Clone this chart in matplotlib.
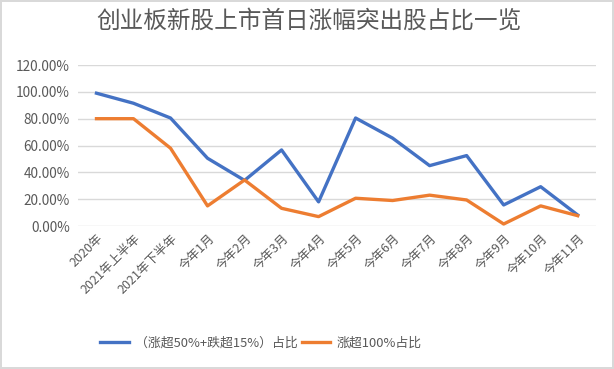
import matplotlib.pyplot as plt
from matplotlib.ticker import FuncFormatter

plt.rcParams['font.family'] = ['Noto Sans CJK SC', 'DejaVu Sans']

# 数据
categories = ['2020年', '2021年上半年', '2021年下半年', '今年1月', '今年2月', '今年3月', '今年4月',
              '今年5月', '今年6月', '今年7月', '今年8月', '今年9月', '今年10月', '今年11月']
ratio_mixed = [0.99, 0.915, 0.805, 0.505, 0.34, 0.567, 0.18, 0.805, 0.655, 0.45, 0.525, 0.157, 0.293, 0.082]
ratio_100 = [0.80, 0.80, 0.58, 0.15, 0.343, 0.132, 0.07, 0.207, 0.19, 0.23, 0.194, 0.015, 0.15, 0.077]

fig = plt.figure(figsize=(6.14, 3.69), dpi=100)
fig.patch.set_edgecolor('#d9d9d9')
fig.patch.set_linewidth(1.5)
ax = fig.add_axes([0.127, 0.3875, 0.844, 0.4363])

x = range(len(categories))
ax.plot(x, ratio_mixed, color='#4472C4', lw=2.4, label='（涨超50%+跌超15%）占比', zorder=3)
ax.plot(x, ratio_100, color='#ED7D31', lw=2.4, label='涨超100%占比', zorder=3)

ax.set_xlim(-0.5, len(categories) - 0.5)
ax.set_ylim(0, 1.2)
ax.set_yticks([0, 0.2, 0.4, 0.6, 0.8, 1.0, 1.2])
ax.yaxis.set_major_formatter(FuncFormatter(lambda v, p: f'{v*100:.2f}%'))
ax.grid(axis='y', color='#d9d9d9', lw=1)
ax.set_axisbelow(True)
for s in ax.spines.values():
    s.set_visible(False)
ax.tick_params(length=0, labelsize=9.8, colors='#595959', pad=6)
ax.set_xticks(list(x))
ax.set_xticklabels(categories, rotation=45, ha='right', rotation_mode='anchor', fontsize=9)
ax.tick_params(axis='x', pad=4)

fig.suptitle('创业板新股上市首日涨幅突出股占比一览', x=0.503, y=0.975, fontsize=17, color='#595959')
fig.legend(loc='center', bbox_to_anchor=(0.425, 0.07), ncol=2, frameon=False, fontsize=9.3,
           handlelength=2.2, columnspacing=0.3, handletextpad=0.5, labelcolor='#595959')

plt.savefig('out.png', dpi=100)
